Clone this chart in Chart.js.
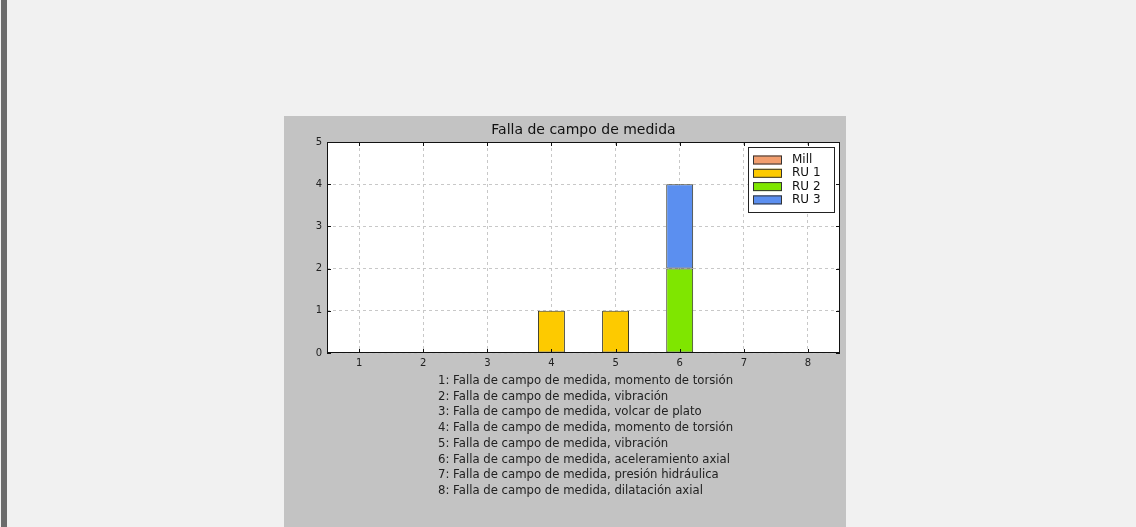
<!DOCTYPE html>
<html>
<head>
<meta charset="utf-8">
<script src="https://cdn.jsdelivr.net/npm/chart.js@4/dist/chart.umd.min.js"></script>
<style>
    html, body { margin: 0; padding: 0; }
    body {
        width: 1136px;
        height: 527px;
        background: #f1f1f1;
        position: relative;
        overflow: hidden;
        font-family: 'DejaVu Sans', sans-serif;
    }
    .side-bar {
        position: absolute;
        left: 1px; top: 0;
        width: 6px; height: 527px;
        background: #6b6b6b;
    }
    .panel {
        position: absolute;
        left: 284px; top: 116px;
        width: 562px; height: 411px;
        background: #c3c3c3;
    }
    #chart {
        position: absolute;
        left: 0; top: 0;
    }
    .notes {
        position: absolute;
        left: 154px; top: 257px;
        font-size: 11.7px;
        line-height: 15.7px;
        color: #222;
        white-space: pre;
    }
</style>
</head>
<body>
<div class="side-bar"></div>
<div class="panel">
    <canvas id="chart" width="562" height="260"></canvas>
    <div class="notes" id="notes"></div>
</div>
<script>
const categories = ['1', '2', '3', '4', '5', '6', '7', '8'];
const seriesNames = ['Mill', 'RU 1', 'RU 2', 'RU 3'];
const millValues = [0, 0, 0, 0, 0, 0, 0, 0];
const ru1Values = [0, 0, 0, 1, 1, 0, 0, 0];
const ru2Values = [0, 0, 0, 0, 0, 2, 0, 0];
const ru3Values = [0, 0, 0, 0, 0, 2, 0, 0];
const yTicks = [0, 1, 2, 3, 4, 5];
const chartTitle = 'Falla de campo de medida';
const noteLines = [
    '1: Falla de campo de medida, momento de torsión',
    '2: Falla de campo de medida, vibración',
    '3: Falla de campo de medida, volcar de plato',
    '4: Falla de campo de medida, momento de torsión',
    '5: Falla de campo de medida, vibración',
    '6: Falla de campo de medida, aceleramiento axial',
    '7: Falla de campo de medida, presión hidráulica',
    '8: Falla de campo de medida, dilatación axial'
];

const colors = ['#f29e6e', '#fdca00', '#7fe600', '#5b8ff0'];

document.getElementById('notes').textContent = noteLines.join('\n');

// frame, inward ticks, title and legend in matplotlib style
const framePlugin = {
    id: 'frame',
    beforeDraw(chart) {
        const { ctx, chartArea: a } = chart;
        ctx.save();
        ctx.fillStyle = '#fff';
        ctx.fillRect(a.left, a.top, a.right - a.left, a.bottom - a.top);
        ctx.restore();
    },
    afterDraw(chart) {
        const { ctx, chartArea: a, scales } = chart;
        ctx.save();
        ctx.strokeStyle = '#111';
        ctx.lineWidth = 1;
        ctx.strokeRect(a.left + 0.5, a.top + 0.5, a.right - a.left - 1, a.bottom - a.top - 1);

        ctx.beginPath();
        categories.forEach((c, i) => {
            const x = Math.round(scales.x.getPixelForValue(i)) + 0.5;
            ctx.moveTo(x, a.bottom); ctx.lineTo(x, a.bottom - 4);
            ctx.moveTo(x, a.top); ctx.lineTo(x, a.top + 4);
        });
        yTicks.forEach(v => {
            const y = Math.round(scales.y.getPixelForValue(v)) + 0.5;
            ctx.moveTo(a.left, y); ctx.lineTo(a.left + 4, y);
            ctx.moveTo(a.right, y); ctx.lineTo(a.right - 4, y);
        });
        ctx.stroke();

        ctx.fillStyle = '#111';
        ctx.font = '14px "DejaVu Sans"';
        ctx.textAlign = 'center';
        ctx.textBaseline = 'middle';
        ctx.fillText(chartTitle, (a.left + a.right) / 2, 14);

        // legend box
        const lx = a.right - 92, ly = a.top + 5, lw = 86, lh = 65;
        ctx.fillStyle = '#fff';
        ctx.fillRect(lx, ly, lw, lh);
        ctx.strokeStyle = '#222';
        ctx.strokeRect(lx + 0.5, ly + 0.5, lw, lh);
        ctx.font = '12px "DejaVu Sans"';
        ctx.textAlign = 'left';
        chart.data.datasets.forEach((ds, i) => {
            const cy = ly + 13 + i * 13.3;
            ctx.fillStyle = ds.backgroundColor;
            ctx.fillRect(lx + 5, cy - 4.5, 29, 9);
            ctx.strokeStyle = '#333';
            ctx.strokeRect(lx + 5.5, cy - 4, 28, 8);
            ctx.fillStyle = '#111';
            ctx.fillText(ds.label, lx + 44, cy);
        });
        ctx.restore();
    }
};

new Chart(document.getElementById('chart'), {
    type: 'bar',
    data: {
        labels: categories,
        datasets: [millValues, ru1Values, ru2Values, ru3Values].map((values, i) => ({
            label: seriesNames[i],
            data: values,
            backgroundColor: colors[i],
            borderColor: '#3a3a2a',
            borderWidth: 1,
            borderSkipped: false,
            categoryPercentage: 1,
            barPercentage: 0.42
        }))
    },
    options: {
        responsive: false,
        animation: false,
        devicePixelRatio: 1,
        layout: { padding: { top: 26, right: 6, left: 0, bottom: 0 } },
        plugins: {
            legend: { display: false },
            title: { display: false },
            tooltip: { enabled: false }
        },
        scales: {
            x: {
                stacked: true,
                offset: true,
                grid: { offset: false, color: '#c8c8c8', drawTicks: false },
                border: { display: false, dash: [3, 3] },
                ticks: { color: '#222', font: { family: 'DejaVu Sans', size: 10 }, padding: 4 },
                afterFit(scale) { scale.height = 23; }
            },
            y: {
                stacked: true,
                min: 0,
                max: 5,
                afterBuildTicks(scale) { scale.ticks = yTicks.map(v => ({ value: v })); },
                grid: { color: '#c8c8c8', drawTicks: false },
                border: { display: false, dash: [3, 3] },
                ticks: { color: '#222', font: { family: 'DejaVu Sans', size: 10 }, padding: 5 },
                afterFit(scale) { scale.width = 43; }
            }
        }
    },
    plugins: [framePlugin]
});
</script>
</body>
</html>
